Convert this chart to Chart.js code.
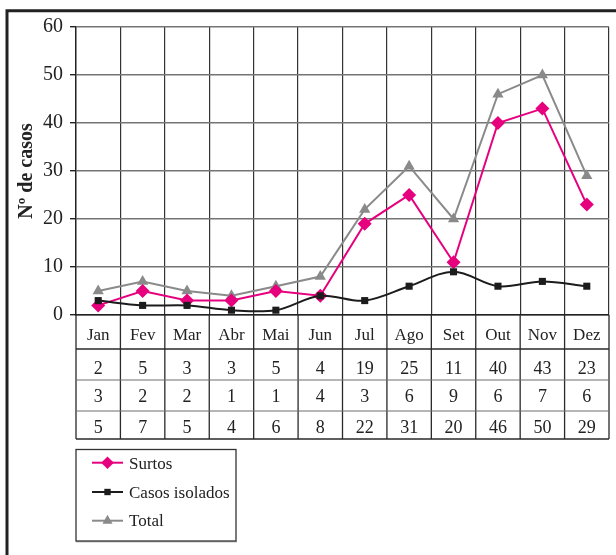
<!DOCTYPE html>
<html>
<head>
<meta charset="utf-8">
<script src="https://cdn.jsdelivr.net/npm/chart.js@4.4.1/dist/chart.umd.min.js"></script>
<style>
  html, body { margin: 0; padding: 0; background: #fff; }
  canvas { display: block; }
</style>
</head>
<body>
<canvas id="c" width="616" height="555"></canvas>
<script>
// Monthly case counts
const months = ['Jan', 'Fev', 'Mar', 'Abr', 'Mai', 'Jun', 'Jul', 'Ago', 'Set', 'Out', 'Nov', 'Dez'];
const surtos = [2, 5, 3, 3, 5, 4, 19, 25, 11, 40, 43, 23];
const casosIsolados = [3, 2, 2, 1, 1, 4, 3, 6, 9, 6, 7, 6];
const total = [5, 7, 5, 4, 6, 8, 22, 31, 20, 46, 50, 29];
const yTicks = [0, 10, 20, 30, 40, 50, 60];

const SERIF = '"Liberation Serif", "Times New Roman", serif';
const INK = '#222222';

const seriesInfo = [
  { label: 'Surtos', data: surtos, color: '#e6007e', point: 'rectRot', radius: 7 },
  { label: 'Casos isolados', data: casosIsolados, color: '#1c1c1c', point: 'rect', radius: 5 },
  { label: 'Total', data: total, color: '#8a8a8a', point: 'triangle', radius: 6.5 }
];

// Frame, data table under the plot and the legend box
const tablePlugin = {
  id: 'tableAndFrame',
  afterDraw(chart) {
    const ctx = chart.ctx;
    const x = chart.scales.x;
    const area = chart.chartArea;
    const left = area.left, right = area.right;
    const rowTop = area.bottom;
    const rows = [349, 380, 411, 439];

    ctx.save();
    // outer frame (top and left rules)
    ctx.strokeStyle = INK;
    ctx.lineWidth = 3;
    ctx.beginPath();
    ctx.moveTo(5.5, 10.8); ctx.lineTo(616, 10.8);
    ctx.moveTo(7, 9.5); ctx.lineTo(7, 555);
    ctx.stroke();

    // column boundaries
    const bounds = [left];
    for (let i = 1; i < months.length; i++) {
      bounds.push((x.getPixelForValue(i - 1) + x.getPixelForValue(i)) / 2);
    }
    bounds.push(right);

    ctx.lineWidth = 1.3;
    ctx.strokeStyle = '#2a2a2a';
    ctx.beginPath();
    bounds.forEach(b => { ctx.moveTo(b, rowTop); ctx.lineTo(b, rows[3]); });
    ctx.stroke();

    // row rules
    ctx.beginPath();
    ctx.strokeStyle = '#2a2a2a';
    ctx.lineWidth = 1.4;
    ctx.moveTo(left, rows[0]); ctx.lineTo(right, rows[0]);
    ctx.moveTo(left, rows[3]); ctx.lineTo(right, rows[3]);
    ctx.stroke();
    ctx.beginPath();
    ctx.strokeStyle = '#6e6e6e';
    ctx.lineWidth = 1.2;
    ctx.moveTo(left, rows[1]); ctx.lineTo(right, rows[1]);
    ctx.moveTo(left, rows[2]); ctx.lineTo(right, rows[2]);
    ctx.stroke();

    // table text
    ctx.fillStyle = INK;
    ctx.textAlign = 'center';
    ctx.textBaseline = 'alphabetic';
    const rowsData = [surtos, casosIsolados, total];
    const baselines = [373.5, 402, 433];
    months.forEach((m, i) => {
      const cx = (bounds[i] + bounds[i + 1]) / 2;
      ctx.font = '17px ' + SERIF;
      ctx.fillText(m, cx, 339.5);
      ctx.font = '18px ' + SERIF;
      rowsData.forEach((arr, r) => ctx.fillText(String(arr[i]), cx, baselines[r]));
    });

    // legend box
    const lx = 76, ly = 449.5, lw = 160, lh = 91.5;
    ctx.fillStyle = '#bdbdbd';
    ctx.fillRect(lx, ly + lh, lw + 1, 1.5);
    ctx.strokeStyle = '#333';
    ctx.lineWidth = 1.3;
    ctx.strokeRect(lx, ly, lw, lh);

    const entryY = [462.7, 492, 520.7];
    const textBase = [468.5, 497.8, 526];
    seriesInfo.forEach((s, i) => {
      const y = entryY[i];
      ctx.strokeStyle = s.color;
      ctx.lineWidth = 2;
      ctx.beginPath();
      ctx.moveTo(92, y); ctx.lineTo(123, y);
      ctx.stroke();
      ctx.fillStyle = s.color;
      Chart.helpers.drawPoint(ctx, {
        pointStyle: s.point,
        radius: s.radius * 0.9,
        borderWidth: 0
      }, 107.5, y);
      ctx.fillStyle = INK;
      ctx.textAlign = 'left';
      ctx.font = '17px ' + SERIF;
      ctx.fillText(s.label, 129, textBase[i]);
    });
    ctx.restore();
  }
};

new Chart(document.getElementById('c'), {
  type: 'line',
  data: {
    labels: months,
    datasets: seriesInfo.map((s, i) => ({
      label: s.label,
      data: s.data,
      borderColor: s.color,
      backgroundColor: s.color,
      borderWidth: 2,
      pointStyle: s.point,
      pointRadius: s.radius,
      pointBorderWidth: 0,
      pointBackgroundColor: s.color,
      tension: i === 1 ? 0.35 : 0,
      order: i === 1 ? 0 : (i === 0 ? 1 : 2),
      clip: false
    }))
  },
  options: {
    responsive: false,
    animation: false,
    events: [],
    layout: { padding: { left: 0, right: 4, top: 27, bottom: 240 } },
    plugins: { legend: { display: false }, tooltip: { enabled: false } },
    scales: {
      x: {
        offset: true,
        ticks: { display: false },
        grid: { offset: true, color: '#333', lineWidth: 1.2, drawTicks: false },
        border: { display: true, color: INK, width: 1.4 },
        afterFit(scale) { scale.height = 0; }
      },
      y: {
        min: 0,
        max: 60,
        afterBuildTicks(scale) { scale.ticks = yTicks.map(v => ({ value: v })); },
        ticks: {
          color: INK,
          padding: 7,
          font: { family: SERIF, size: 20 }
        },
        grid: { color: '#747474', lineWidth: 1.4, tickLength: 6, tickColor: INK },
        border: { display: true, color: INK, width: 1.4 },
        title: {
          display: true,
          text: 'Nº de casos',
          color: INK,
          font: { family: SERIF, size: 20, weight: 'bold' },
          padding: { top: 15, bottom: 0 }
        },
        afterFit(scale) { scale.width = 76; }
      }
    }
  },
  plugins: [tablePlugin]
});
</script>
</body>
</html>
